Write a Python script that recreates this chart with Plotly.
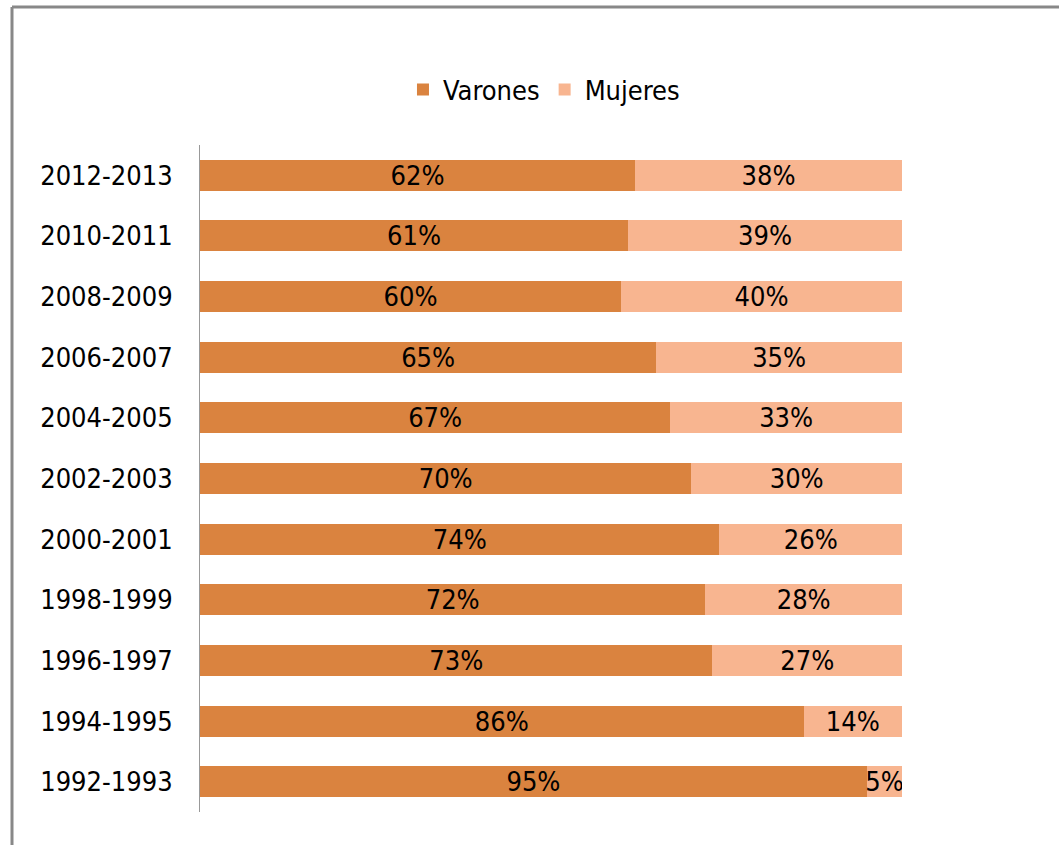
import plotly.graph_objects as go

categories = ["1992-1993", "1994-1995", "1996-1997", "1998-1999", "2000-2001",
              "2002-2003", "2004-2005", "2006-2007", "2008-2009", "2010-2011", "2012-2013"]
varones = [95, 86, 73, 72, 74, 70, 67, 65, 60, 61, 62]
mujeres = [5, 14, 27, 28, 26, 30, 33, 35, 40, 39, 38]

FONT = "Liberation Sans Narrow, DejaVu Sans Condensed, Liberation Sans, sans-serif"
C_V = "#DA833F"
C_M = "#F8B590"
FS = 27

fig = go.Figure()
fig.add_trace(go.Bar(
    y=categories, x=varones, name="Varones", orientation="h",
    marker=dict(color=C_V, line=dict(width=0)),
    text=[f"{v}%" for v in varones], textposition="inside",
    insidetextanchor="middle", textfont=dict(color="black", size=FS, family=FONT),
    width=0.51,
))
fig.add_trace(go.Bar(
    y=categories, x=mujeres, name="Mujeres", orientation="h",
    marker=dict(color=C_M, line=dict(width=0)),
    text=[f"{v}%" for v in mujeres], textposition="inside",
    insidetextanchor="middle", textfont=dict(color="black", size=FS, family=FONT),
    width=0.51,
))

L, T, W, H = 200, 145, 702, 667
def px(x):
    return (x - L) / W
def py(y):
    return (T + H - y) / H

fig.update_layout(
    barmode="stack",
    width=1059, height=845,
    margin=dict(l=L, r=1059 - L - W, t=T, b=845 - T - H, autoexpand=False),
    paper_bgcolor="white", plot_bgcolor="white",
    font=dict(family=FONT, size=FS, color="black"),
    uniformtext=dict(minsize=FS, mode="show"),
    showlegend=True,
    legend=dict(orientation="h", x=0.49, xanchor="center", y=py(90), yanchor="middle",
                font=dict(size=FS, family=FONT), traceorder="normal",
                itemwidth=30, bgcolor="rgba(0,0,0,0)"),
    xaxis=dict(range=[0, 100], showgrid=False, showticklabels=False, zeroline=False,
               showline=False, ticks=""),
    yaxis=dict(showgrid=False, showline=True, linecolor="#999999", linewidth=1,
               ticks="", tickfont=dict(size=FS, family=FONT, color="black"),
               ticklabelstandoff=21, categoryorder="array", categoryarray=categories),
    shapes=[
        dict(type="line", xref="paper", yref="paper", x0=px(12), x1=px(1062),
             y0=py(7), y1=py(7), line=dict(color="#888888", width=3)),
        dict(type="line", xref="paper", yref="paper", x0=px(12), x1=px(12),
             y0=py(7), y1=py(848), line=dict(color="#888888", width=3)),
    ],
)

fig.write_html("out.html", config={"displayModeBar": False},
               post_script="document.body.style.margin='0';")
